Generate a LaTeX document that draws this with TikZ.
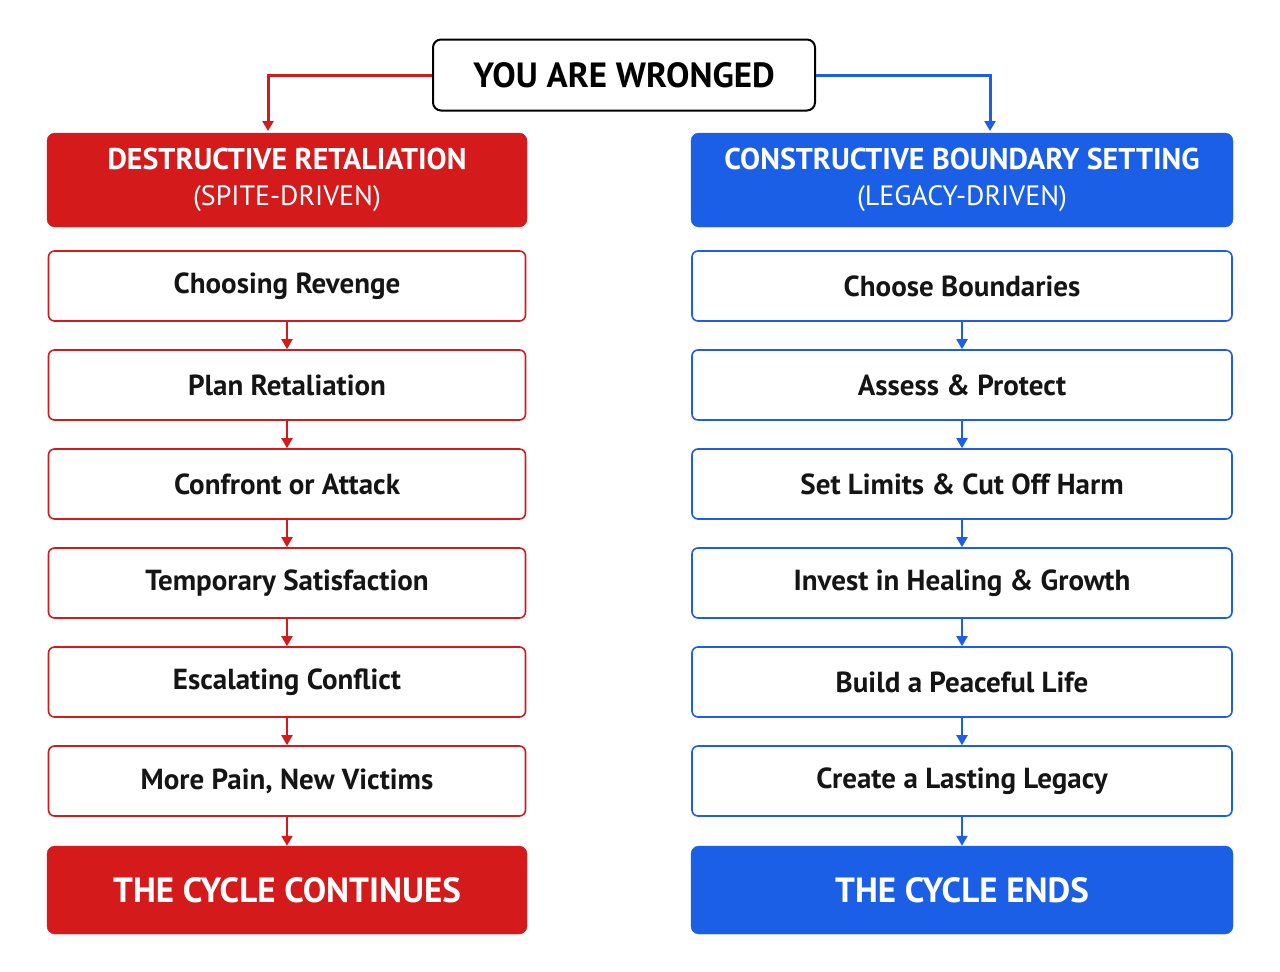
\documentclass[tikz,border=0pt]{standalone}
\usepackage{fontspec}
\setmainfont{PT Sans}
\usetikzlibrary{arrows.meta}
\definecolor{redc}{HTML}{D41A1A}
\definecolor{bluec}{HTML}{1A5FE6}
\definecolor{ink}{HTML}{151515}
\tikzset{
  step/.style={draw=#1,line width=1.6pt,rounded corners=6pt,minimum height=70pt,
    text=ink,font=\bfseries\fontsize{29}{34}\selectfont},
  head/.style={fill=#1,draw=#1,rounded corners=8pt,text=white,align=center},
  flow/.style={line width=2pt,draw=#1,-{Triangle[length=10pt,width=11pt]}}
}
\begin{document}
\begin{tikzpicture}[x=1pt,y=-1pt]
\useasboundingbox[fill=white] (0,0) rectangle (1280,972);

\node[draw=black,line width=2pt,rounded corners=8pt,minimum width=382pt,minimum height=71pt,
  font=\bfseries\fontsize{35}{38}\selectfont] (top) at (624,75) {YOU ARE WRONGED};

% headers
\node[head=redc,minimum width=480pt,minimum height=94pt,font=\fontsize{30}{36}\selectfont] (lh) at (287,180)
  {\textbf{DESTRUCTIVE RETALIATION}\\{\fontsize{28}{36}\selectfont (SPITE-DRIVEN)}};
\node[head=bluec,minimum width=542pt,minimum height=94pt,font=\fontsize{30}{36}\selectfont] (rh) at (962,180)
  {\textbf{CONSTRUCTIVE BOUNDARY SETTING}\\{\fontsize{28}{36}\selectfont (LEGACY-DRIVEN)}};

\draw[flow=redc,line width=3pt] (top.west) -| (268,131);
\draw[flow=bluec,line width=3pt] (top.east) -| (990,131);

% steps
\foreach \i/\t in {1/Choosing Revenge,2/Plan Retaliation,3/Confront or Attack,
  4/Temporary Satisfaction,5/Escalating Conflict,6/{More Pain, New Victims}}
  \node[step=redc,minimum width=477pt] (l\i) at (287,187+99*\i) {\t};
\foreach \i/\t in {1/Choose Boundaries,2/Assess \& Protect,3/Set Limits \& Cut Off Harm,
  4/Invest in Healing \& Growth,5/Build a Peaceful Life,6/Create a Lasting Legacy}
  \node[step=bluec,minimum width=540pt] (r\i) at (962,187+99*\i) {\t};

\node[head=redc,minimum width=480pt,minimum height=88pt,font=\bfseries\fontsize{35}{38}\selectfont]
  (lb) at (287,890) {THE CYCLE CONTINUES};
\node[head=bluec,minimum width=542pt,minimum height=88pt,font=\bfseries\fontsize{35}{38}\selectfont]
  (rb) at (962,890) {THE CYCLE ENDS};

\foreach \a/\b in {1/2,2/3,3/4,4/5,5/6} {
  \draw[flow=redc] (l\a) -- (l\b);
  \draw[flow=bluec] (r\a) -- (r\b);
}
\draw[flow=redc] (l6) -- (lb);
\draw[flow=bluec] (r6) -- (rb);
\end{tikzpicture}
\end{document}
